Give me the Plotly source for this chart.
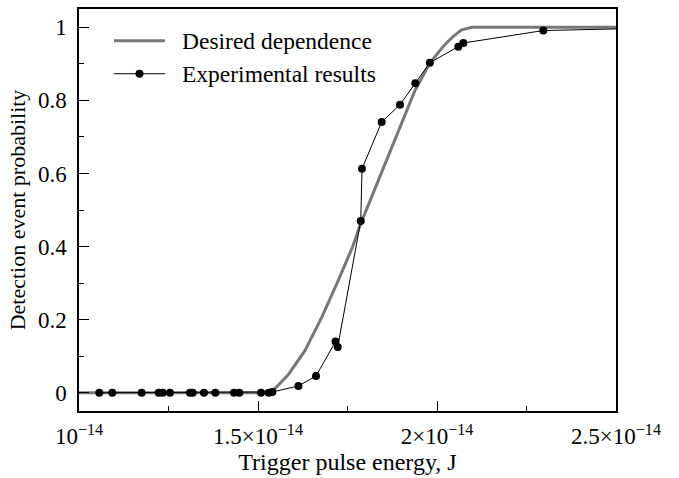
import plotly.graph_objects as go

# Desired dependence (x in J, y probability)
desired_x = [1.0e-14, 1.52e-14, 1.547e-14, 1.585e-14, 1.631e-14, 1.678e-14, 1.724e-14,
             1.7634e-14, 1.785e-14, 1.836e-14, 1.8827e-14, 1.9385e-14, 1.980e-14,
             2.0176e-14, 2.0455e-14, 2.069e-14, 2.097e-14, 2.5e-14]
desired_y = [0.0, 0.0, 0.011, 0.05, 0.115, 0.206, 0.307,
             0.397, 0.458, 0.579, 0.69, 0.827, 0.902,
             0.948, 0.975, 0.993, 1.0, 1.0]

# Experimental results
exp_x = [1.0567e-14, 1.093e-14, 1.175e-14, 1.2226e-14, 1.2338e-14, 1.2542e-14, 1.310e-14,
         1.3176e-14, 1.349e-14, 1.3807e-14, 1.433e-14, 1.4478e-14, 1.5084e-14, 1.530e-14,
         1.540e-14, 1.613e-14, 1.662e-14, 1.7165e-14, 1.7226e-14, 1.787e-14, 1.7905e-14,
         1.8455e-14, 1.8966e-14, 1.9394e-14, 1.980e-14, 2.0595e-14, 2.0735e-14, 2.297e-14,
         2.7e-14]
exp_y = [0, 0, 0, 0, 0, 0, 0,
         0, 0, 0, 0, 0, 0, 0,
         0.002, 0.0185, 0.0458, 0.140, 0.125, 0.470, 0.6127,
         0.741, 0.788, 0.847, 0.903, 0.947, 0.957, 0.991,
         1.0]

series_names = ["Desired dependence", "Experimental results"]

x_tickvals = [1.0e-14, 1.5e-14, 2.0e-14, 2.5e-14]
x_ticktext = ["10<sup>\u221214</sup>", "1.5\u00d710<sup>\u221214</sup>",
              "2\u00d710<sup>\u221214</sup>", "2.5\u00d710<sup>\u221214</sup>"]
x_minor = [1.25e-14, 1.75e-14, 2.25e-14]
y_tickvals = [0, 0.2, 0.4, 0.6, 0.8, 1]
y_ticktext = ["0", "0.2", "0.4", "0.6", "0.8", "1"]
y_minor = [0.1, 0.3, 0.5, 0.7, 0.9]

FONT = "Liberation Serif, Times New Roman, serif"
GRAY = "#777777"

fig = go.Figure()
fig.add_trace(go.Scatter(x=desired_x, y=desired_y, mode="lines",
                         name=series_names[0], showlegend=False,
                         line=dict(color=GRAY, width=3)))
fig.add_trace(go.Scatter(x=exp_x, y=exp_y, mode="lines+markers",
                         name=series_names[1], showlegend=False,
                         line=dict(color="black", width=1),
                         marker=dict(color="black", size=8)))

axis_common = dict(showline=True, linecolor="black", linewidth=1.5, mirror=True,
                   ticks="inside", ticklen=10, tickwidth=1.3, tickcolor="black",
                   showgrid=False, zeroline=False,
                   tickfont=dict(family=FONT, size=23, color="black"))

fig.update_xaxes(range=[1.0e-14, 2.5e-14], tickmode="array", tickvals=x_tickvals,
                 ticktext=x_ticktext,
                 minor=dict(tickmode="array", tickvals=x_minor, ticks="inside",
                            ticklen=5, tickwidth=1.3, tickcolor="black", showgrid=False),
                 title=dict(text="Trigger pulse energy, J",
                            font=dict(family=FONT, size=24, color="black"), standoff=4),
                 ticklabelstandoff=4,
                 **axis_common)
fig.update_yaxes(range=[-0.05, 1.05], tickmode="array", tickvals=y_tickvals,
                 ticktext=y_ticktext,
                 minor=dict(tickmode="array", tickvals=y_minor, ticks="inside",
                            ticklen=5, tickwidth=1.3, tickcolor="black", showgrid=False),
                 title=dict(text="Detection event probability",
                            font=dict(family=FONT, size=22, color="black"), standoff=6),
                 ticklabelstandoff=6,
                 **axis_common)

# Legend drawn manually to match the reference's long line samples
leg_x0, leg_x1, leg_tx = 0.0652, 0.1601, 0.1881
leg_y = [0.921, 0.839]
fig.add_shape(type="line", xref="paper", yref="paper", x0=leg_x0, x1=leg_x1,
              y0=leg_y[0], y1=leg_y[0], line=dict(color=GRAY, width=3))
fig.add_shape(type="line", xref="paper", yref="paper", x0=leg_x0, x1=leg_x1,
              y0=leg_y[1], y1=leg_y[1], line=dict(color="black", width=1))
fig.add_shape(type="circle", xref="paper", yref="paper", xsizemode="pixel",
              ysizemode="pixel", xanchor=(leg_x0 + leg_x1) / 2, yanchor=leg_y[1],
              x0=-4, x1=4, y0=-4, y1=4, fillcolor="black", line=dict(color="black", width=0))
for name, yy in zip(series_names, leg_y):
    fig.add_annotation(text=name, xref="paper", yref="paper", x=leg_tx, y=yy,
                       xanchor="left", yanchor="middle", showarrow=False,
                       font=dict(family=FONT, size=23.5, color="black"))

fig.update_layout(width=679, height=478, autosize=False,
                  margin=dict(l=79, r=63, t=7, b=67),
                  paper_bgcolor="white", plot_bgcolor="white",
                  font=dict(family=FONT, size=23, color="black"),
                  showlegend=False)

fig.write_html("out.html")
